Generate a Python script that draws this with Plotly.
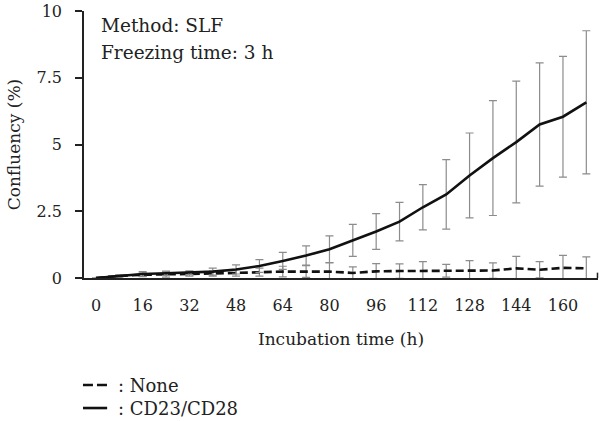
import plotly.graph_objects as go

hours = [0, 8, 16, 24, 32, 40, 48, 56, 64, 72, 80, 88, 96, 104, 112, 120, 128, 136, 144, 152, 160, 168]
cd_vals = [0, 0.08, 0.15, 0.18, 0.2, 0.24, 0.32, 0.45, 0.64, 0.84, 1.08, 1.41, 1.74, 2.11, 2.65, 3.13, 3.84, 4.49, 5.09, 5.75, 6.04, 6.58]
cd_err = [0, 0.04, 0.09, 0.08, 0.07, 0.13, 0.17, 0.24, 0.32, 0.36, 0.5, 0.6, 0.67, 0.72, 0.85, 1.3, 1.59, 2.15, 2.28, 2.31, 2.26, 2.68]
none_vals = [0, 0.08, 0.12, 0.13, 0.15, 0.17, 0.19, 0.22, 0.24, 0.24, 0.24, 0.19, 0.25, 0.26, 0.27, 0.27, 0.28, 0.28, 0.36, 0.31, 0.38, 0.36]
none_err = [0, 0.04, 0.07, 0.1, 0.08, 0.1, 0.12, 0.15, 0.2, 0.22, 0.33, 0.23, 0.29, 0.27, 0.34, 0.24, 0.37, 0.29, 0.45, 0.3, 0.47, 0.43]
x_ticks = [0, 16, 32, 48, 64, 80, 96, 112, 128, 144, 160]
y_ticks = [0, 2.5, 5, 7.5, 10]
y_tick_text = ["0", "2.5", "5", "7.5", "10"]
legend_names = [": None", ": CD23/CD28"]

FONT = "DejaVu Serif"
TXT = "#222222"
ERR_COLOR = "#8c8c8c"

fig = go.Figure()
fig.add_trace(go.Scatter(
    x=hours, y=none_vals, mode="lines", name=legend_names[0], showlegend=False,
    line=dict(color="#111111", width=2.6, dash="8px,4px"),
    error_y=dict(type="data", array=none_err, visible=True, color=ERR_COLOR, thickness=1.2, width=4),
))
fig.add_trace(go.Scatter(
    x=hours, y=cd_vals, mode="lines", name=legend_names[1], showlegend=False,
    line=dict(color="#111111", width=2.6),
    error_y=dict(type="data", array=cd_err, visible=True, color=ERR_COLOR, thickness=1.2, width=4),
))

leg_y = [-0.401, -0.487]
leg_dash = ["10px,4px", "solid"]
shapes = [
    # small end mark at the right end of the x axis
    dict(type="line", xref="paper", yref="paper", x0=0.999, x1=0.999, y0=0, y1=0.02,
         line=dict(color=TXT, width=1.5)),
]
annotations = []
for name, yy, dsh in zip(legend_names, leg_y, leg_dash):
    shapes.append(dict(type="line", xref="paper", yref="paper", x0=-0.002, x1=0.045,
                       y0=yy, y1=yy, line=dict(color="#111111", width=2.6, dash=dsh)))
    annotations.append(dict(text=name, x=0.062, y=yy, xref="paper", yref="paper",
                            xanchor="left", yanchor="middle", showarrow=False,
                            font=dict(family=FONT, size=18, color=TXT)))

annotations += [
    dict(text="Method: SLF", x=0.03, y=0.944, xref="paper", yref="paper",
         xanchor="left", yanchor="middle", showarrow=False,
         font=dict(family=FONT, size=18.5, color=TXT)),
    dict(text="Freezing time: 3 h", x=0.03, y=0.843, xref="paper", yref="paper",
         xanchor="left", yanchor="middle", showarrow=False,
         font=dict(family=FONT, size=18.5, color=TXT)),
]

fig.update_layout(
    width=600, height=421,
    margin=dict(l=84, r=2, t=11, b=143, autoexpand=False),
    paper_bgcolor="white", plot_bgcolor="white",
    font=dict(family=FONT, size=17, color=TXT),
    xaxis=dict(range=[-4.1, 172], tickvals=x_ticks, ticks="", showgrid=False,
               zeroline=False, showline=True, linecolor=TXT, linewidth=1.5,
               ticklabelstandoff=12,
               tickfont=dict(family=FONT, size=16, color=TXT),
               title=dict(text="Incubation time (h)", standoff=19,
                          font=dict(family=FONT, size=17, color=TXT))),
    yaxis=dict(range=[0, 10], tickvals=y_ticks, ticktext=y_tick_text, ticks="outside",
               ticklen=7, tickcolor=TXT, tickwidth=1.5, showgrid=False,
               zeroline=False, showline=True, linecolor=TXT, linewidth=1.5,
               ticklabelstandoff=10,
               tickfont=dict(family=FONT, size=16, color=TXT),
               title=dict(text="Confluency (%)", standoff=12,
                          font=dict(family=FONT, size=17, color=TXT))),
    shapes=shapes,
    annotations=annotations,
)

fig.write_html("out.html")
